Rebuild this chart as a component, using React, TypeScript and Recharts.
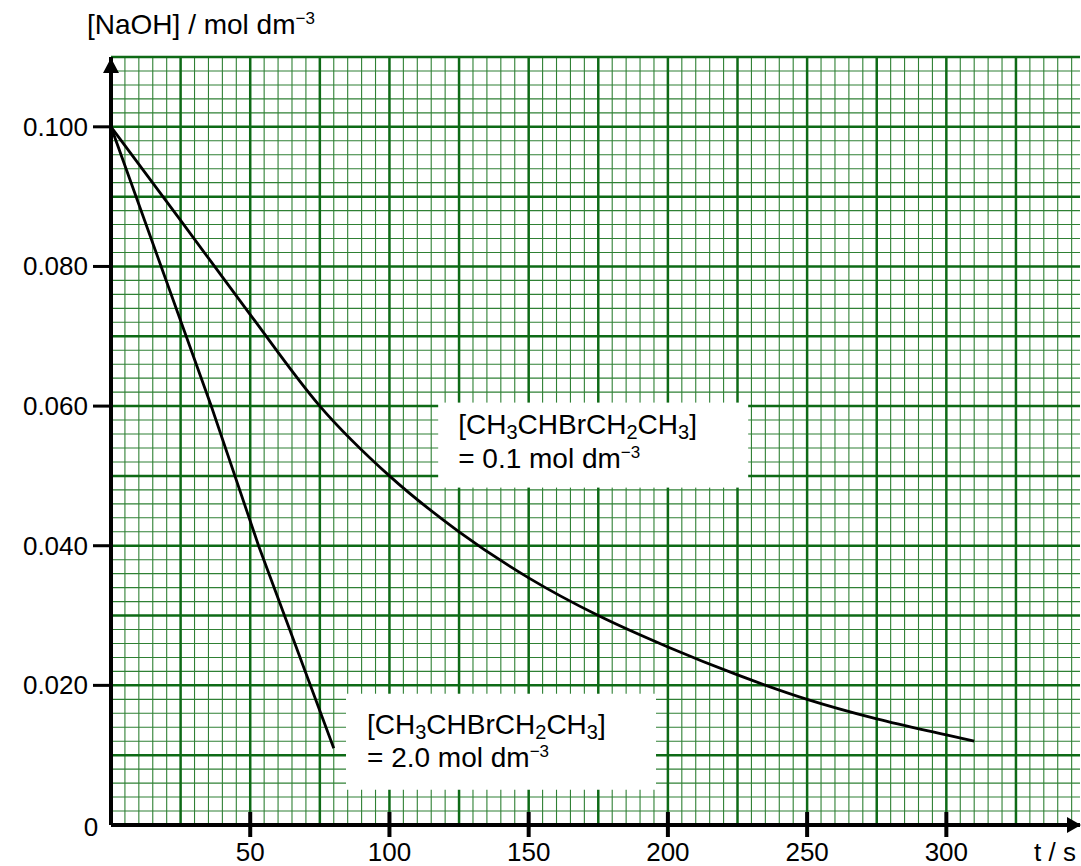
import React from 'react';
import { LineChart, Line, XAxis, YAxis, ReferenceLine, ReferenceDot } from 'recharts';

// Data
const T_SLOW = [0, 25, 50, 75, 100, 125, 150, 175, 200, 225, 250, 275, 300, 310];
const C_SLOW = [0.1, 0.0866, 0.0731, 0.06, 0.05, 0.042, 0.0354, 0.03, 0.0255, 0.0215, 0.018, 0.0152, 0.0129, 0.012];
const T_FAST = [0, 36, 53, 80];
const C_FAST = [0.1, 0.06, 0.04, 0.011];
const X_TICKS = [50, 100, 150, 200, 250, 300];
const Y_TICKS = [0, 0.02, 0.04, 0.06, 0.08, 0.1];
const X_MAX = 348;
const Y_MAX = 0.11;

// label boxes: top-left corner in data units
const BOX_SLOW = { t: 117.5, c: 0.0605, conc: '0.1' };
const BOX_FAST = { t: 84.4, c: 0.0188, conc: '2.0' };

const slowData = T_SLOW.map((t, i) => ({ t, c: C_SLOW[i] }));
const fastData = T_FAST.map((t, i) => ({ t, c: C_FAST[i] }));

const minorX: number[] = [];
for (let i = 1; i * 5 <= X_MAX; i++) if (i % 5 !== 0) minorX.push(i * 5);
const majorX: number[] = [];
for (let i = 1; i * 25 <= X_MAX; i++) majorX.push(i * 25);
const minorY: number[] = [];
for (let i = 1; i * 2 <= 110; i++) if (i % 5 !== 0) minorY.push(+(i * 0.002).toFixed(4));
const majorY: number[] = [];
for (let i = 1; i <= 11; i++) majorY.push(+(i * 0.01).toFixed(3));

const FONT = '"Liberation Sans", Arial, sans-serif';
const FS = 26;
const FL = 28;
const MINOR = '#2f8034';
const MAJOR = '#0e6a16';

const XTick = (props: any) => {
  const { x, y, payload } = props;
  return (
    <g>
      <line x1={x} x2={x} y1={y - 13} y2={y + 12} stroke="#000" strokeWidth={4} />
      <text x={x} y={y + 36} textAnchor="middle" fontFamily={FONT} fontSize={FS} fill="#000">
        {payload.value}
      </text>
    </g>
  );
};

const YTick = (props: any) => {
  const { x, y, payload } = props;
  if (payload.value === 0) {
    return (
      <text x={x - 20} y={y + 11} textAnchor="middle" fontFamily={FONT} fontSize={FS} fill="#000">
        0
      </text>
    );
  }
  return (
    <g>
      <line x1={x - 18} x2={x} y1={y} y2={y} stroke="#000" strokeWidth={3} />
      <text x={x - 23} y={y + 9} textAnchor="end" fontFamily={FONT} fontSize={FS} fill="#000">
        {payload.value.toFixed(3)}
      </text>
    </g>
  );
};

const makeBox = (conc: string, w: number, h: number, dx: number, y1: number, y2: number) => (p: any) => {
  const x0 = p.cx;
  const y0 = p.cy;
  const x = x0 + dx;
  return (
    <g>
      <rect x={x0} y={y0} width={w} height={h} fill="#fff" />
      <g fontFamily={FONT} fontSize={FL} fill="#000">
        <text x={x} y={y0 + y1}>
          <tspan>[CH</tspan>
          <tspan fontSize={20} dy={5}>3</tspan>
          <tspan dy={-5}>CHBrCH</tspan>
          <tspan fontSize={20} dy={5}>2</tspan>
          <tspan dy={-5}>CH</tspan>
          <tspan fontSize={20} dy={5}>3</tspan>
          <tspan dy={-5}>]</tspan>
        </text>
        <text x={x} y={y0 + y2}>
          <tspan>{`= ${conc} mol dm`}</tspan>
          <tspan fontSize={17} dy={-10}>−3</tspan>
        </text>
      </g>
    </g>
  );
};

const SlowBox = makeBox(BOX_SLOW.conc, 310, 85, 20, 31, 65);
const FastBox = makeBox(BOX_FAST.conc, 310, 96, 21, 40, 73);

const XArrow = (p: any) => (
  <polygon points={`${p.cx + 1},${p.cy} ${p.cx - 13},${p.cy - 8} ${p.cx - 13},${p.cy + 8}`} fill="#000" />
);
const YArrow = (p: any) => (
  <polygon points={`${p.cx},${p.cy + 1} ${p.cx - 8},${p.cy + 16} ${p.cx + 8},${p.cy + 16}`} fill="#000" />
);

export default function App() {
  return (
    <div style={{ position: 'absolute', left: 0, top: 0, width: 1081, height: 866, background: '#fff' }}>
      <LineChart width={1081} height={866} margin={{ top: 57, right: 1, bottom: 0, left: 0 }}>
        <XAxis
          dataKey="t"
          type="number"
          domain={[0, X_MAX]}
          ticks={X_TICKS}
          allowDataOverflow
          axisLine={false}
          tickLine={false}
          tickSize={0}
          tickMargin={0}
          height={41}
          tick={<XTick />}
          interval={0}
        />
        <YAxis
          type="number"
          domain={[0, Y_MAX]}
          ticks={Y_TICKS}
          allowDataOverflow
          axisLine={false}
          tickLine={false}
          tickSize={0}
          tickMargin={0}
          width={111}
          tick={<YTick />}
          interval={0}
        />
        {minorX.map((v) => (
          <ReferenceLine key={'mx' + v} x={v} stroke={MINOR} strokeWidth={1.1} />
        ))}
        {minorY.map((v) => (
          <ReferenceLine key={'my' + v} y={v} stroke={MINOR} strokeWidth={1.1} />
        ))}
        {majorX.map((v) => (
          <ReferenceLine key={'Mx' + v} x={v} stroke={MAJOR} strokeWidth={2.5} />
        ))}
        {majorY.map((v) => (
          <ReferenceLine key={'My' + v} y={v} stroke={MAJOR} strokeWidth={2.5} />
        ))}
        <Line data={slowData} dataKey="c" type="monotone" stroke="#000" strokeWidth={2.8} dot={false} isAnimationActive={false} />
        <Line data={fastData} dataKey="c" type="linear" stroke="#000" strokeWidth={2.8} dot={false} isAnimationActive={false} />
        <ReferenceLine y={0} stroke="#000" strokeWidth={4} />
        <ReferenceLine x={0} stroke="#000" strokeWidth={4} />
        <ReferenceDot x={BOX_SLOW.t} y={BOX_SLOW.c} r={1} shape={SlowBox} ifOverflow="visible" />
        <ReferenceDot x={BOX_FAST.t} y={BOX_FAST.c} r={1} shape={FastBox} ifOverflow="visible" />
        <ReferenceDot x={X_MAX} y={0} r={1} shape={XArrow} ifOverflow="visible" />
        <ReferenceDot x={0} y={Y_MAX} r={1} shape={YArrow} ifOverflow="visible" />
      </LineChart>
      <svg width={1081} height={866} style={{ position: 'absolute', left: 0, top: 0, pointerEvents: 'none' }}>
        <text x={87} y={34} fontFamily={FONT} fontSize={FL} fill="#000">
          <tspan>[NaOH] / mol dm</tspan>
          <tspan fontSize={17} dy={-10}>−3</tspan>
        </text>
        <text x={1076} y={861} textAnchor="end" fontFamily={FONT} fontSize={FS} fill="#000">
          t / s
        </text>
      </svg>
    </div>
  );
}
